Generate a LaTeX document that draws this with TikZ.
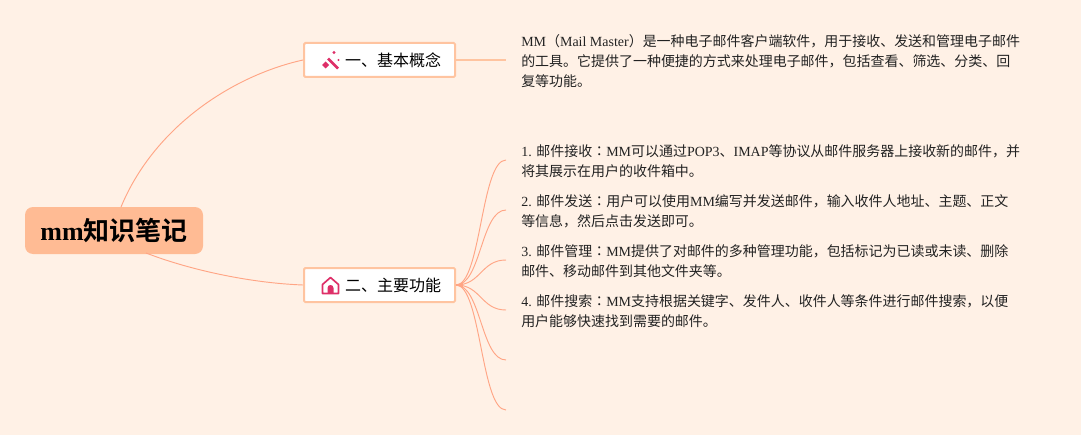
\documentclass[tikz,border=0pt]{standalone}
\usepackage{fontspec}
\usetikzlibrary{calc}
\setmainfont{Liberation Serif}
\newfontfamily\cjk[BoldFont={Noto Sans CJK SC Bold}]{Noto Sans CJK SC}
\newfontfamily\cjkjp{Noto Sans CJK JP}
\newcommand\zh[1]{{\cjk #1}}
\newcommand\cln{{\cjkjp ：}}
\definecolor{bgc}{HTML}{FFF1E6}
\definecolor{rootc}{HTML}{FFBB94}
\definecolor{edgec}{HTML}{FFC4A0}
\definecolor{linec}{HTML}{FFA585}
\definecolor{iconc}{HTML}{DE2F68}
\definecolor{txt}{HTML}{222222}
\tikzset{
  x=0.75pt,y=-0.75pt,
  rootbox/.style={fill=rootc,rounded corners=6pt,minimum width=133.5pt,minimum height=35.25pt,inner sep=0pt,font=\fontsize{19.5pt}{22pt}\selectfont\bfseries,text=black},
  branchbox/.style={draw=edgec,fill=white,line width=1.5pt,rounded corners=1pt,minimum width=113.25pt,minimum height=25.5pt,inner sep=0pt,font=\fontsize{12pt}{14pt}\selectfont,text=black},
  leaf/.style={anchor=west,align=left,inner xsep=11.25pt,inner ysep=0pt,text=txt,font=\fontsize{10.48pt}{15.2pt}\selectfont},
  curve/.style={draw=linec,line width=0.7pt},
  stem/.style={draw=edgec,line width=1.3pt},
}
\begin{document}
\begin{tikzpicture}
\useasboundingbox (0,0) rectangle (1081,435);
\fill[bgc] (0,0) rectangle (1081,435);
\node[rootbox] (root) at (114,230.5) {mm\zh{知识笔记}};
\node[branchbox] (b1) at (379.5,60) {\hspace*{20.25pt}\zh{一、基本概念}};
\node[branchbox] (b2) at (379.5,285) {\hspace*{20.25pt}\zh{二、主要功能}};
\node[leaf] (t0) at (506,61) {MM\zh{（}Mail Master\zh{）是一种电子邮件客户端软件，用于接收、发送和管理电子邮件}\\\zh{的工具。它提供了一种便捷的方式来处理电子邮件，包括查看、筛选、分类、回}\\\zh{复等功能。}};
\node[leaf] (t1) at (506,161) {1. \zh{邮件接收}\cln MM\zh{可以通过}POP3\zh{、}IMAP\zh{等协议从邮件服务器上接收新的邮件，并}\\\zh{将其展示在用户的收件箱中。}};
\node[leaf] (t2) at (506,211) {2. \zh{邮件发送}\cln\zh{用户可以使用}MM\zh{编写并发送邮件，输入收件人地址、主题、正文}\\\zh{等信息，然后点击发送即可。}};
\node[leaf] (t3) at (506,261) {3. \zh{邮件管理}\cln MM\zh{提供了对邮件的多种管理功能，包括标记为已读或未读、删除}\\\zh{邮件、移动邮件到其他文件夹等。}};
\node[leaf] (t4) at (506,311) {4. \zh{邮件搜索}\cln MM\zh{支持根据关键字、发件人、收件人等条件进行邮件搜索，以便}\\\zh{用户能够快速找到需要的邮件。}};
\coordinate (e5) at (506,360);
\coordinate (e6) at (506,410);
\coordinate (r1) at (121,207);
\coordinate (r2) at (146,253);
\draw[curve] (r1) .. controls (155,125) and (235,75) .. (b1.west);
\draw[curve] (r2) .. controls (190,270) and (250,283) .. (b2.west);
\draw[stem] (b1.east) -- (t0.west |- b1.east);
\foreach \n in {t1,t2,t3,t4}{
  \draw[curve] (b2.east) .. controls +(25,0) and ($(\n.west)+(-25,-1)$) .. ($(\n.west)+(0,-1)$);
}
\draw[curve] (b2.east) .. controls +(25,0) and ($(e5)+(-25,0)$) .. (e5);
\draw[curve] (b2.east) .. controls +(25,0) and ($(e6)+(-25,0)$) .. (e6);
\fill[linec] (457,285) -- (463,282.5) -- (463,287.5) -- cycle;
% wand icon
\draw[iconc,line width=2pt] (328,58.5) -- (338,68.5);
\fill[iconc] (322,65) -- (325.5,61.5) -- (329,65) -- (325.5,68.5) -- cycle;
\fill[iconc] (334,52.5) circle (1.6);
\fill[iconc] (338.5,60) circle (1.2);
% house icon
\draw[iconc,line width=1.25pt,line join=round] (322.5,293.5) -- (322.5,284.5) -- (330.5,277.5) -- (338.5,284.5) -- (338.5,293.5) -- cycle;
\fill[iconc] (327.5,293.5) -- (327.5,288) .. controls (327.5,284) and (333.5,284) .. (333.5,288) -- (333.5,293.5) -- cycle;
\end{tikzpicture}
\end{document}
